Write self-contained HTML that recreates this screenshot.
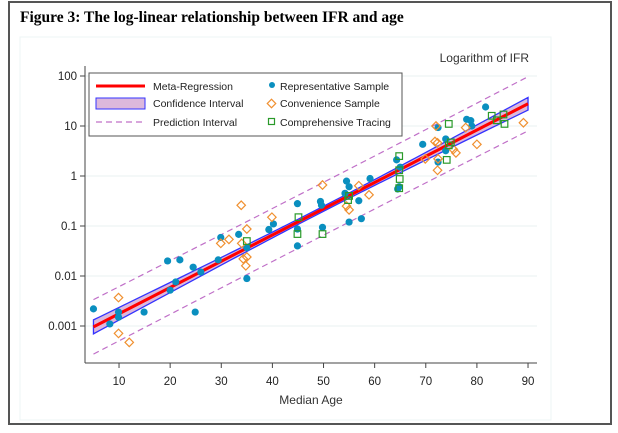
<!DOCTYPE html>
<html><head><meta charset="utf-8"><style>
body{margin:0;background:#fff;width:618px;height:428px;overflow:hidden;font-family:"Liberation Sans",sans-serif}
</style></head><body>
<svg id="chart" width="618" height="428" xmlns="http://www.w3.org/2000/svg">
<rect x="9" y="2" width="602" height="422" fill="#fff" stroke="#555" stroke-width="2"/>
<text x="20" y="22" font-family="Liberation Serif,serif" font-weight="bold" font-size="15.5" fill="#000">Figure 3: The log-linear relationship between IFR and age</text>
<rect x="20" y="37" width="531" height="383" fill="#fff" stroke="#eef4f4"/>
<g id="grid"></g>
<g id="bands"></g>
<g id="points"></g>
<g id="axes"></g>
<text x="529" y="62" text-anchor="end" font-size="12" fill="#333">Logarithm of IFR</text>
<text x="311" y="404" text-anchor="middle" font-size="12" fill="#333">Median Age</text>
<g>
<rect x="89" y="73" width="313" height="63" fill="#fff" stroke="#555" stroke-width="1"/>
<line x1="96" y1="86" x2="145" y2="86" stroke="#f00" stroke-width="3"/>
<text x="153" y="90" font-size="10.5" fill="#222">Meta-Regression</text>
<rect x="96" y="98" width="49" height="11" fill="#dcb8dc" stroke="#33f"/>
<text x="153" y="107" font-size="10.5" fill="#222">Confidence Interval</text>
<line x1="96" y1="122" x2="145" y2="122" stroke="#c070c8" stroke-width="1.2" stroke-dasharray="6,4"/>
<text x="153" y="126" font-size="10.5" fill="#222">Prediction Interval</text>
<circle cx="272" cy="85" r="3" fill="#0a8fbf"/>
<text x="280" y="90" font-size="10.5" fill="#222">Representative Sample</text>
<rect x="268.5" y="100.5" width="6" height="6" transform="rotate(45 271.5 103.5)" fill="none" stroke="#f09030" stroke-width="1.2"/>
<text x="280" y="107" font-size="10.5" fill="#222">Convenience Sample</text>
<rect x="268.5" y="118.5" width="6" height="6" fill="none" stroke="#2a9a2a" stroke-width="1.2"/>
<text x="280" y="126" font-size="10.5" fill="#222">Comprehensive Tracing</text>
</g>
</svg>
<script>
const xTicks=[10,20,30,40,50,60,70,80,90];
const yTicks=[0.001,0.01,0.1,1,10,100];
const yTickLabels=["0.001","0.01","0.1","1","10","100"];
const regIntercept=-3.28, regSlope=0.0525;
const repAge=[5,8.2,9.9,9.9,14.9,19.5,21.9,20,21.1,24.5,26,24.9,29.4,29.9,33.4,35,35,39.3,40.2,44.9,44.9,44.9,49.8,49.4,49.6,54.2,54.5,55,56.9,55,57.4,59.1,64.3,65,64.8,64.5,69.4,72.4,73.9,73.9,72.4,78,78.8,79,81.7];
const repIFR=[0.0022,0.0011,0.0019,0.0015,0.0019,0.020,0.021,0.0052,0.0076,0.015,0.012,0.0019,0.021,0.059,0.068,0.037,0.0089,0.085,0.11,0.28,0.040,0.087,0.094,0.31,0.26,0.45,0.79,0.61,0.32,0.12,0.14,0.89,2.1,1.5,0.61,0.55,4.3,9.3,5.5,3.2,1.9,13.6,12.8,10,24];
const convAge=[9.9,9.9,12,33.9,31.5,29.9,35,34,34.3,35,34.8,39.9,49.8,56.9,58.9,54.5,55,69.9,72,71.8,72.3,72.4,72.3,75.4,75.9,77.8,80,89.1];
const convIFR=[0.0037,0.00071,0.00047,0.26,0.054,0.045,0.087,0.045,0.022,0.024,0.016,0.15,0.66,0.64,0.42,0.25,0.21,2.2,10,4.9,4.6,2.2,1.3,3.4,2.9,9.3,4.3,11.6];
const compAge=[35,45.1,44.9,49.8,55,54.8,64.8,64.8,64.9,64.8,74.1,74.5,74.9,74.5,82.9,85.2,83.9,85.4];
const compIFR=[0.050,0.15,0.069,0.069,0.40,0.33,2.5,1.3,0.87,0.57,2.1,11,4.7,4.1,16,17,13,11];

const NS="http://www.w3.org/2000/svg";
const X=a=>67.9+a*5.1125;
const Y=v=>176-50*Math.log10(v);
const YL=l=>176-50*l;
const L={x0:85,x1:537,y0:66,y1:363};
function mk(tag,attrs,parent){const e=document.createElementNS(NS,tag);for(const k in attrs)e.setAttribute(k,attrs[k]);parent.appendChild(e);return e;}
const grid=document.getElementById('grid'),bands=document.getElementById('bands'),pts=document.getElementById('points'),axes=document.getElementById('axes');
yTicks.forEach((t,i)=>{
  const g=mk('line',{x1:L.x0,x2:L.x1,y1:Y(t),y2:Y(t),stroke:'#e8f2f2','stroke-width':1},grid);
  
  
  const tk=mk('line',{x1:L.x0-5,x2:L.x0,y1:Y(t),y2:Y(t),stroke:'#444'},axes);
  
  
  const tx=mk('text',{x:L.x0-8,y:Y(t)+4,'text-anchor':'end','font-size':11.5,fill:'#222'},axes);
  tx.textContent=yTickLabels[i];
  
  
});
xTicks.forEach(t=>{
  const tk=mk('line',{x1:X(t),x2:X(t),y1:L.y1,y2:L.y1+5,stroke:'#444'},axes);
  
  
  const tx=mk('text',{x:X(t),y:L.y1+22,'text-anchor':'middle','font-size':11.5,fill:'#222'},axes);
  tx.textContent=t;
  
  
});
const ya=mk('line',{x1:L.x0,x2:L.x0,y1:L.y0,y2:L.y1,stroke:'#444'},axes);


const xa=mk('line',{x1:L.x0,x2:L.x1,y1:L.y1,y2:L.y1,stroke:'#444'},axes);



const fit=a=>regIntercept+regSlope*a;
const ciH=a=>Math.sqrt(0.0025+8.4e-6*(a-50)*(a-50));
const piH=a=>Math.sqrt(0.28+8.4e-6*(a-50)*(a-50));
const ages=[];for(let a=5;a<=90;a+=1)ages.push(a);
let up=ages.map(a=>X(a)+','+YL(fit(a)+ciH(a))).join(' ');
let lo=ages.slice().reverse().map(a=>X(a)+','+YL(fit(a)-ciH(a))).join(' ');
const ci=mk('polygon',{points:up+' '+lo,fill:'#dcb8dc',stroke:'#33f','stroke-width':1.3},bands);


const rl=mk('polyline',{points:ages.map(a=>X(a)+','+YL(fit(a))).join(' '),fill:'none',stroke:'#f00','stroke-width':3},bands);


[1,-1].forEach(s=>{
  const p=mk('polyline',{points:ages.map(a=>X(a)+','+YL(fit(a)+s*piH(a))).join(' '),fill:'none',stroke:'#c070c8','stroke-width':1.2,'stroke-dasharray':'6,4'},bands);
  
  
});
repAge.forEach((a,i)=>{
  const c=mk('circle',{cx:X(a),cy:Y(repIFR[i]),r:3.6,fill:'#0a8fbf'},pts);
  
  
});
convAge.forEach((a,i)=>{
  const x=X(a),y=Y(convIFR[i]);
  const c=mk('rect',{x:x-3,y:y-3,width:6,height:6,transform:`rotate(45 ${x} ${y})`,fill:'none',stroke:'#f09030','stroke-width':1.2},pts);
  
  
});
compAge.forEach((a,i)=>{
  const x=X(a),y=Y(compIFR[i]);
  const c=mk('rect',{x:x-3.3,y:y-3.3,width:6.6,height:6.6,fill:'none',stroke:'#2a9a2a','stroke-width':1.2},pts);
  
  
});
</script>
</body></html>
